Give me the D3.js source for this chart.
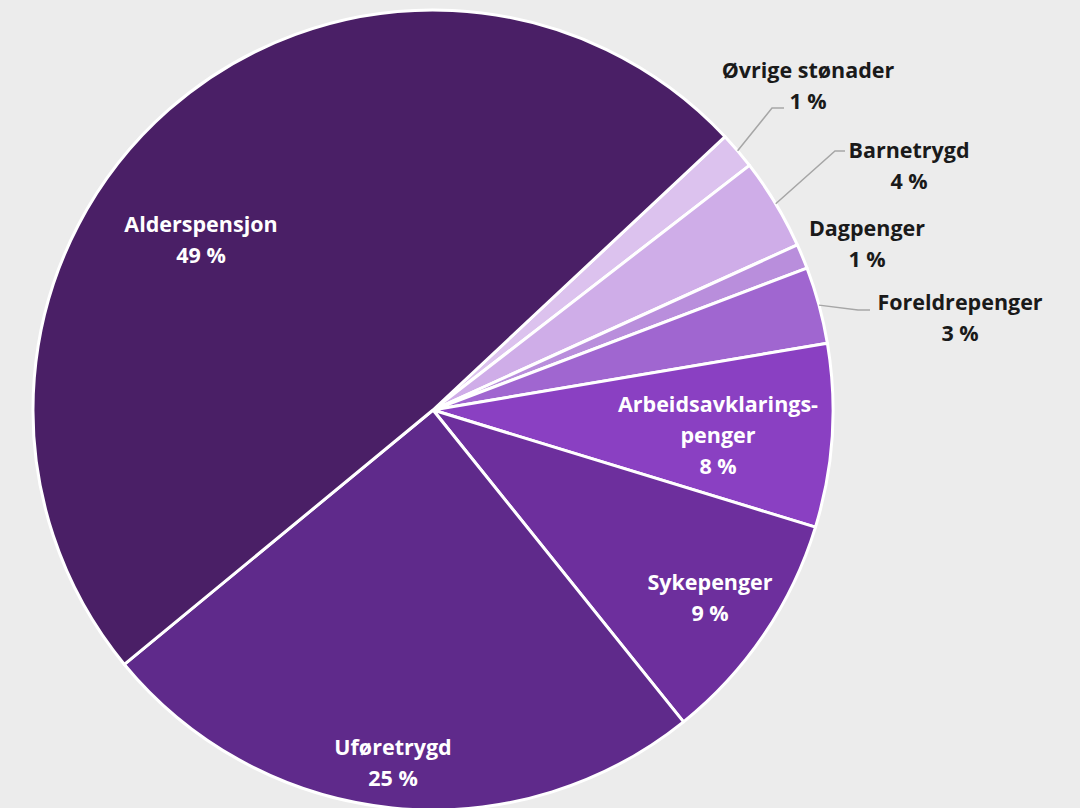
<!DOCTYPE html>
<html>
<head>
<meta charset="utf-8">
<script src="https://cdn.jsdelivr.net/npm/d3@7"></script>
<style>
  body { margin: 0; background: #ececec; }
  svg { display: block; }
  .lbl { font-family: "Open Sans", sans-serif; font-weight: bold; font-size: 21.5px; }
</style>
</head>
<body>
<div id="chart"></div>
<script>
width = 1080;
height = 808;

// data, clockwise from the top right
var categories = ["Øvrige stønader", "Barnetrygd", "Dagpenger", "Foreldrepenger",
                  "Arbeidsavklarings-|penger", "Sykepenger", "Uføretrygd", "Alderspensjon"];
var shares = [1.5, 3.7, 1.0, 3.1, 7.4, 9.5, 24.8, 49.0];
var shareLabels = ["1 %", "4 %", "1 %", "3 %", "8 %", "9 %", "25 %", "49 %"];

var colors = ["#dcc2ee", "#cfade8", "#b98edc", "#a066d0", "#8a40c2", "#6d2f9d", "#5f2a8b", "#4a1f66"];
var inside = [false, false, false, false, true, true, true, true];

// label anchor, offset from pie centre (first line baseline)
var labelPos = [[375, -332], [476, -252], [434, -174], [527, -100],
                [285, 2], [277, 180], [-40, 345], [-232, -178]];

var cx = 433, cy = 410, radius = 400;

var svg = d3.select("#chart")
    .append("svg")
    .attr("width", width)
    .attr("height", height)
    .append("g")
    .attr("transform", "translate(" + cx + "," + cy + ")");

var pie = d3.pie()
    .sort(null)
    .value(d => d)
    .startAngle(46.9 * Math.PI / 180)
    .endAngle((46.9 + 360) * Math.PI / 180);

var arc = d3.arc().innerRadius(0).outerRadius(radius);

var arcs = pie(shares);

svg.selectAll("path.slice")
    .data(arcs)
    .enter()
    .append("path")
    .attr("class", "slice")
    .attr("d", arc)
    .style("fill", (d, i) => colors[i])
    .style("stroke", "#ffffff")
    .style("stroke-width", 3)
    .style("stroke-linejoin", "round");

// leader lines for the small outside labels (not Dagpenger)
var leaders = [0, 1, 3];
leaders.forEach(function(i) {
    var a = (arcs[i].startAngle + arcs[i].endAngle) / 2;
    var x0 = Math.sin(a) * radius, y0 = -Math.cos(a) * radius;
    var lp = labelPos[i];
    var pts;
    if (i == 0) pts = [[x0, y0], [lp[0] - 36, lp[1] + 30], [lp[0] - 24, lp[1] + 30]];
    else if (i == 1) pts = [[x0, y0], [lp[0] - 74, lp[1] - 7], [lp[0] - 64, lp[1] - 7]];
    else pts = [[x0, y0], [lp[0] - 102, lp[1] + 0], [lp[0] - 90, lp[1] + 0]];
    svg.append("path")
        .attr("d", d3.line()(pts))
        .style("fill", "none")
        .style("stroke", "#a6a6a6")
        .style("stroke-width", 1.5);
});

var labels = svg.selectAll("text.lbl")
    .data(arcs)
    .enter()
    .append("text")
    .attr("class", "lbl")
    .attr("text-anchor", "middle")
    .style("fill", (d, i) => inside[i] ? "#ffffff" : "#1a1a1a")
    .attr("transform", (d, i) => "translate(" + labelPos[i][0] + "," + labelPos[i][1] + ")");

labels.each(function(d, i) {
    var lines = categories[i].split("|").concat([shareLabels[i]]);
    var t = d3.select(this);
    lines.forEach(function(l, j) {
        t.append("tspan").attr("x", 0).attr("y", j * 31).text(l);
    });
});
</script>
</body>
</html>
